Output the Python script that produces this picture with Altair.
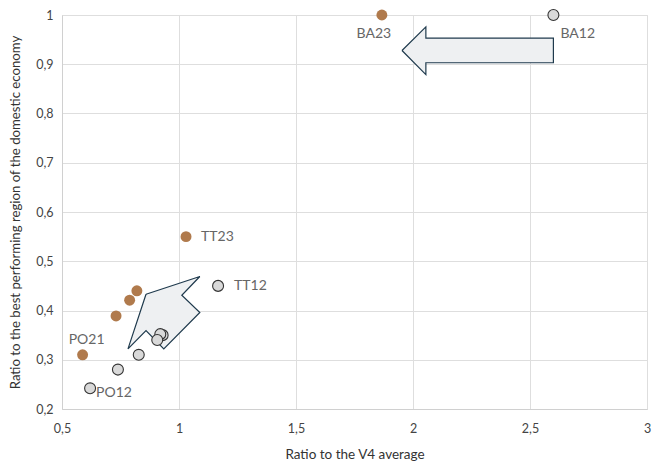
import altair as alt
import pandas as pd

# Data points
x2012 = [2.60, 1.167, 0.93, 0.92, 0.907, 0.828, 0.739, 0.62]
y2012 = [1.00, 0.45, 0.35, 0.352, 0.34, 0.31, 0.28, 0.242]
lab2012 = ["BA12", "TT12", "", "", "", "", "", "PO12"]

x2023 = [1.867, 1.03, 0.82, 0.789, 0.731, 0.588]
y2023 = [1.00, 0.55, 0.44, 0.421, 0.389, 0.31]
lab2023 = ["BA23", "TT23", "", "", "", "PO21"]

# Annotation arrows (polygon vertices in data units)
arrow1_x = [1.953, 2.055, 2.055, 2.600, 2.600, 2.055, 2.055, 1.953]
arrow1_y = [0.928, 0.976, 0.953, 0.953, 0.903, 0.903, 0.879, 0.928]
arrow2_x = [0.859, 1.089, 1.012, 1.089, 0.935, 0.859, 0.782, 0.859]
arrow2_y = [0.433, 0.469, 0.431, 0.396, 0.322, 0.359, 0.322, 0.433]

xticks = [0.5, 1, 1.5, 2, 2.5, 3]
yticks = [0.2, 0.3, 0.4, 0.5, 0.6, 0.7, 0.8, 0.9, 1.0]

pts = pd.concat([
    pd.DataFrame({"x": x2012, "y": y2012, "label": lab2012, "year": "2012"}),
    pd.DataFrame({"x": x2023, "y": y2023, "label": lab2023, "year": "2023"}),
])

arrows = pd.concat([
    pd.DataFrame({"x": arrow1_x, "y": arrow1_y, "grp": "a1", "i": range(len(arrow1_x))}),
    pd.DataFrame({"x": arrow2_x, "y": arrow2_y, "grp": "a2", "i": range(len(arrow2_x))}),
])

FONT = "Lato"
fmt = "replace(format(datum.value, '.1~f'), '.', ',')"

xs = alt.Scale(domain=[0.5, 3], nice=False, zero=False)
ys = alt.Scale(domain=[0.2, 1.0], nice=False, zero=False)

xaxis = alt.Axis(values=xticks, labelExpr=fmt, title="Ratio to the V4 average",
                 grid=True, ticks=False, labelPadding=13, titlePadding=13,
                 labelFlush=False, labelOverlap=False, labelBound=False,
                 labelFontSize=12.5, titleFontSize=13.5, labelColor="#444", titleColor="#333",
                 labelFont=FONT, titleFont=FONT, titleFontWeight="normal",
                 gridColor="#dedede", domainColor="#d0d0d0")
yaxis = alt.Axis(values=yticks, labelExpr=fmt,
                 title="Ratio to the best performing region of the domestic economy",
                 grid=True, ticks=False, labelPadding=9, titlePadding=13,
                 labelFontSize=12.5, titleFontSize=13.2, labelColor="#444", titleColor="#333",
                 labelFont=FONT, titleFont=FONT, titleFontWeight="normal",
                 gridColor="#dedede", domainColor="#d0d0d0")

base_pts = alt.Chart(pts)

arrow_layer = alt.Chart(arrows).mark_line(
    fill="#eef0f2", stroke="#1f3a4d", strokeWidth=1.2, interpolate="linear"
).encode(
    x=alt.X("x:Q", scale=xs, axis=xaxis),
    y=alt.Y("y:Q", scale=ys, axis=yaxis),
    detail="grp:N",
    order="i:Q",
)

gray = base_pts.transform_filter("datum.year == '2012'").mark_circle(
    size=120, opacity=1, color="#d9d9d9", stroke="#333333", strokeWidth=1.1
).encode(x=alt.X("x:Q", scale=xs), y=alt.Y("y:Q", scale=ys))

orange = base_pts.transform_filter("datum.year == '2023'").mark_circle(
    size=120, opacity=1, color="#b07a4c"
).encode(x=alt.X("x:Q", scale=xs), y=alt.Y("y:Q", scale=ys))


def label(name, align, dx, dy):
    return base_pts.transform_filter(f"datum.label == '{name}'").mark_text(
        align=align, baseline="middle", dx=dx, dy=dy, font=FONT, fontSize=14, color="#666666"
    ).encode(x=alt.X("x:Q", scale=xs), y=alt.Y("y:Q", scale=ys), text="label:N")


labels = [
    label("BA23", "center", -8, 19),
    label("BA12", "left", 7, 19),
    label("TT23", "left", 15, 0),
    label("TT12", "left", 16, 0),
    label("PO21", "center", 4, -15),
    label("PO12", "left", 6, 5),
]

chart = alt.layer(arrow_layer, gray, orange, *labels).properties(
    width=585, height=394,
    autosize=alt.AutoSizeParams(type="none"),
    padding={"left": 54, "top": 7, "right": 5, "bottom": 54},
).configure_view(stroke=None).configure(background="white")

chart.save("out.html", embed_options={"renderer": "svg", "actions": False})
